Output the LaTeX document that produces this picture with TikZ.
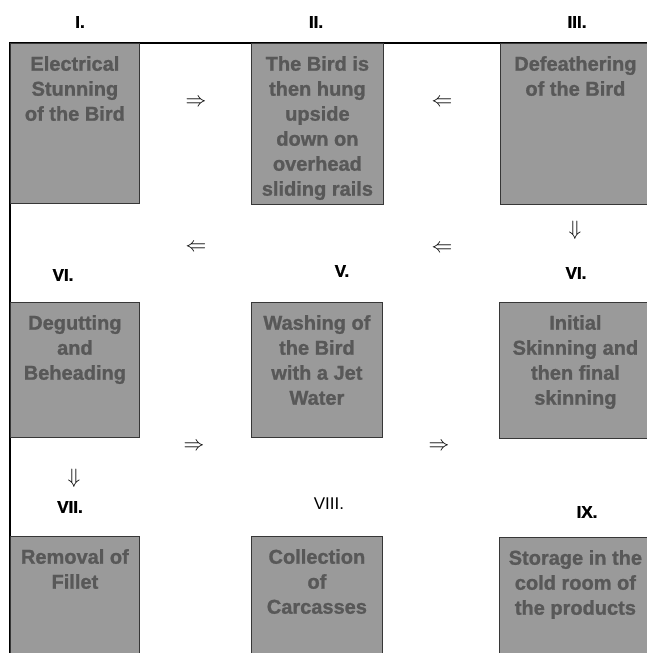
\documentclass[tikz,border=0pt]{standalone}
\usepackage{fontspec}
\setmainfont{Liberation Sans}
\newfontfamily\heavyfont[FakeBold=1.2]{Liberation Sans Bold}
\usetikzlibrary{positioning}

\definecolor{boxgray}{RGB}{154,154,154}
\definecolor{textgray}{RGB}{88,88,88}
\definecolor{edgegray}{RGB}{55,55,55}

\begin{document}
\begin{tikzpicture}[x=1pt,y=-1pt,
                    stage/.style={rectangle,draw=edgegray,fill=boxgray,line width=0.8pt,
                                  anchor=north west,inner sep=0pt},
                    stage text/.style={align=center,text=textgray,inner sep=0pt,
                                       font=\fontsize{20}{25}\selectfont\heavyfont},
                    numeral/.style={font=\fontsize{17}{19}\selectfont\heavyfont},
                    flow/.style={font=\huge,inner sep=0pt}]

  \useasboundingbox (0,0) rectangle (647,653);
  \clip (0,0) rectangle (647,653);

  % frame along the top and the left
  \coordinate (corner) at (10,43);
  \coordinate (top end) at (660,43);
  \coordinate (left end) at (10,670);
  \draw[line width=1.1pt] (top end) -- (corner) -- (left end);

  % the nine stages
  \node[stage,minimum width=129pt,minimum height=160pt] (s1) at (10,43) {};
  \node[stage,minimum width=132pt,minimum height=161pt] (s2) at (251,43) {};
  \node[stage,minimum width=150pt,minimum height=161pt] (s3) at (500,43) {};
  \node[stage,minimum width=129pt,minimum height=135pt] (s4) at (10,302) {};
  \node[stage,minimum width=131pt,minimum height=135pt] (s5) at (251,302) {};
  \node[stage,minimum width=152pt,minimum height=136pt] (s6) at (499,302) {};
  \node[stage,minimum width=129pt,minimum height=140pt] (s7) at (10,536) {};
  \node[stage,minimum width=131pt,minimum height=140pt] (s8) at (251,536) {};
  \node[stage,minimum width=152pt,minimum height=140pt] (s9) at (499,537) {};

  \node[stage text,below=13pt of s1.north] (t1) {Electrical\\Stunning\\of the Bird};
  \node[stage text,below=13pt of s2.north] (t2) {The Bird is\\then hung\\upside\\down on\\overhead\\sliding rails};
  \node[stage text,below=13pt of s3.north] (t3) {Defeathering\\of the Bird};
  \node[stage text,below=13pt of s4.north] (t4) {Degutting\\and\\Beheading};
  \node[stage text,below=13pt of s5.north] (t5) {Washing of\\the Bird\\with a Jet\\Water};
  \node[stage text,below=13pt of s6.north] (t6) {Initial\\Skinning and\\then final\\skinning};
  \node[stage text,below=13pt of s7.north] (t7) {Removal of\\Fillet};
  \node[stage text,below=13pt of s8.north] (t8) {Collection\\of\\Carcasses};
  \node[stage text,below=13pt of s9.north] (t9) {Storage in the\\cold room of\\the products};

  % numbering
  \node[numeral] (n1) at (80,22) {I.};
  \node[numeral] (n2) at (316,22) {II.};
  \node[numeral] (n3) at (577,22) {III.};
  \node[numeral] (n4) at (63,275) {VI.};
  \node[numeral] (n5) at (342,271) {V.};
  \node[numeral] (n6) at (576,273) {VI.};
  \node[numeral] (n7) at (70,507) {VII.};
  \node[numeral,font=\fontsize{17}{19}\selectfont] (n8) at (329,504) {VIII.};
  \node[numeral] (n9) at (587,512) {IX.};

  % direction marks
  \node[flow] (a1) at (196,103) {$\Rightarrow$};
  \node[flow] (a2) at (442,103) {$\Leftarrow$};
  \node[flow] (a3) at (575,230) {$\Downarrow$};
  \node[flow] (a4) at (196,248) {$\Leftarrow$};
  \node[flow] (a5) at (442,249) {$\Leftarrow$};
  \node[flow] (a6) at (194,447) {$\Rightarrow$};
  \node[flow] (a7) at (439,447) {$\Rightarrow$};
  \node[flow] (a8) at (74,478) {$\Downarrow$};
\end{tikzpicture}
\end{document}
